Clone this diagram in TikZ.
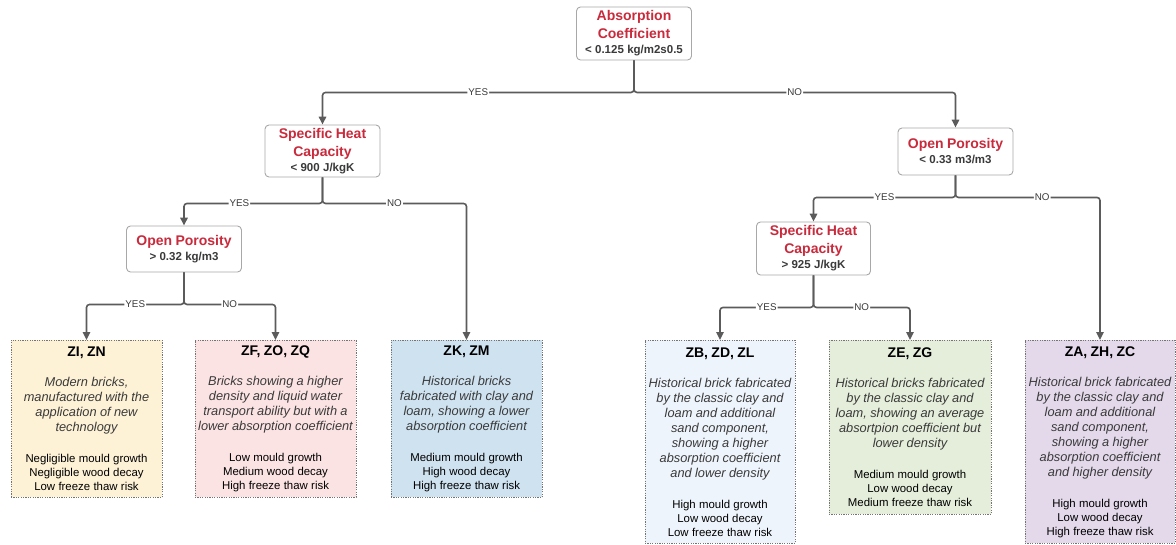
\documentclass[tikz,border=0pt]{standalone}
\usepackage{fontspec}
\setmainfont{Liberation Sans}
\usetikzlibrary{arrows.meta,positioning}
\definecolor{tred}{HTML}{C92A3C}
\definecolor{tgray}{HTML}{3A3A3A}
\definecolor{lgray}{HTML}{5B5B5B}
\definecolor{bgray}{HTML}{A8A8A8}
\definecolor{fyellow}{HTML}{FDF1D6}
\definecolor{fpink}{HTML}{FCE3E3}
\definecolor{fblue}{HTML}{CFE2F0}
\definecolor{fpale}{HTML}{EEF4FB}
\definecolor{fgreen}{HTML}{E4EEDA}
\definecolor{fpurple}{HTML}{E3D9EA}

% decision text: red title, grey threshold
\newcommand{\crittext}[2]{{\fontsize{14}{18}\selectfont\color{tred}#1\par}%
  {\fontsize{11.5}{15}\selectfont\color{tgray}#2\par}}
% leaf text: group names, description, risks
\newcommand{\leaftext}[3]{{\fontsize{14}{17}\selectfont\bfseries #1\par}\vspace{15pt}%
  {\fontsize{12.8}{15}\selectfont\itshape\color{tgray}#2\par}\vspace{17pt}%
  {\fontsize{11.4}{14}\selectfont #3\par}}

\begin{document}
\begin{tikzpicture}[x=1pt, y=-1pt,
  crit/.style={draw=bgray, fill=white, rounded corners=4pt, line width=0.9pt, minimum width=115pt, text width=110pt, align=center, inner sep=2pt, font=\bfseries},
  leaf/.style={draw=lgray!85, dash pattern=on 1.2pt off 1.2pt, line width=0.9pt, anchor=north, align=center, inner xsep=2pt, inner ysep=2pt},
  arr/.style={-{Triangle[length=8pt, width=7.5pt]}, line width=1.6pt, draw=lgray, rounded corners=3pt},
  lbl/.style={fill=white, inner sep=1pt, font=\fontsize{9.8}{10}\selectfont, text=tgray},
]
  \useasboundingbox (0,0) rectangle (1176,544);

  % Decisions
  \node[crit, minimum height=53pt] (absorb) at (634,33.5) {\crittext{Absorption\\Coefficient}{< 0.125 kg/m2s0.5}};
  \node[crit, minimum height=52pt] (heatA) at (322.5,151) {\crittext{Specific Heat\\Capacity}{< 900 J/kgK}};
  \node[crit, minimum height=46pt] (poreA) at (184,249) {\crittext{Open Porosity}{> 0.32 kg/m3}};
  \node[crit, minimum height=47pt] (poreB) at (955.5,151.5) {\crittext{Open Porosity}{< 0.33 m3/m3}};
  \node[crit, minimum height=53pt, minimum width=113pt] (heatB) at (813.5,248.5) {\crittext{Specific Heat\\Capacity}{> 925 J/kgK}};

  % Leaves
  \node[leaf, fill=fyellow, text width=147pt, minimum height=157pt] (zi) at (86.5,340) {\leaftext{ZI, ZN}{Modern bricks,\\manufactured with the\\application of new\\technology}{Negligible mould growth\\Negligible wood decay\\Low freeze thaw risk}};
  \node[leaf, fill=fpink, text width=157pt, minimum height=157pt] (zf) at (275.5,340) {\leaftext{ZF, ZO, ZQ}{Bricks showing a higher\\density and liquid water\\transport ability but with a\\lower absorption coefficient}{Low mould growth\\Medium wood decay\\High freeze thaw risk}};
  \node[leaf, fill=fblue, text width=147pt, minimum height=157pt] (zk) at (466.5,340) {\leaftext{ZK, ZM}{Historical bricks\\fabricated with clay and\\loam, showing a lower\\absorption coefficient}{Medium mould growth\\High wood decay\\High freeze thaw risk}};
  \node[leaf, fill=fpale, text width=146pt, minimum height=203pt] (zb) at (720,340) {\leaftext{ZB, ZD, ZL}{Historical brick fabricated\\by the classic clay and\\loam and additional\\sand component,\\showing a higher\\absorption coefficient\\and lower density}{High mould growth\\Low wood decay\\Low freeze thaw risk}};
  \node[leaf, fill=fgreen, text width=158pt, minimum height=174pt] (ze) at (910,340) {\leaftext{ZE, ZG}{Historical bricks fabricated\\by the classic clay and\\loam, showing an average\\absortpion coefficient but\\lower density}{Medium mould growth\\Low wood decay\\Medium freeze thaw risk}};
  \node[leaf, fill=fpurple, text width=146pt, minimum height=203pt] (za) at (1100,340) {\leaftext{ZA, ZH, ZC}{Historical brick fabricated\\by the classic clay and\\loam and additional\\sand component,\\showing a higher\\absorption coefficient\\and higher density}{High mould growth\\Low wood decay\\High freeze thaw risk}};

  % Branches
  \draw[arr] (absorb.south) -- ++(0,32) -| node[lbl, pos=0.25] {YES} (heatA.north);
  \draw[arr] (absorb.south) -- ++(0,32) -| node[lbl, pos=0.25] {NO} (poreB.north);
  \draw[arr] (heatA.south) -- ++(0,26) -| node[lbl, pos=0.3] {YES} (poreA.north);
  \draw[arr] (heatA.south) -- ++(0,26) -| node[lbl, pos=0.25] {NO} (zk.north);
  \draw[arr] (poreA.south) -- ++(0,32) -| node[lbl, pos=0.25] {YES} (zi.north);
  \draw[arr] (poreA.south) -- ++(0,32) -| node[lbl, pos=0.25] {NO} (zf.north);
  \draw[arr] (poreB.south) -- ++(0,22) -| node[lbl, pos=0.25] {YES} (heatB.north);
  \draw[arr] (poreB.south) -- ++(0,22) -| node[lbl, pos=0.3] {NO} (za.north);
  \draw[arr] (heatB.south) -- ++(0,32) -| node[lbl, pos=0.25] {YES} (zb.north);
  \draw[arr] (heatB.south) -- ++(0,32) -| node[lbl, pos=0.25] {NO} (ze.north);
\end{tikzpicture}
\end{document}
